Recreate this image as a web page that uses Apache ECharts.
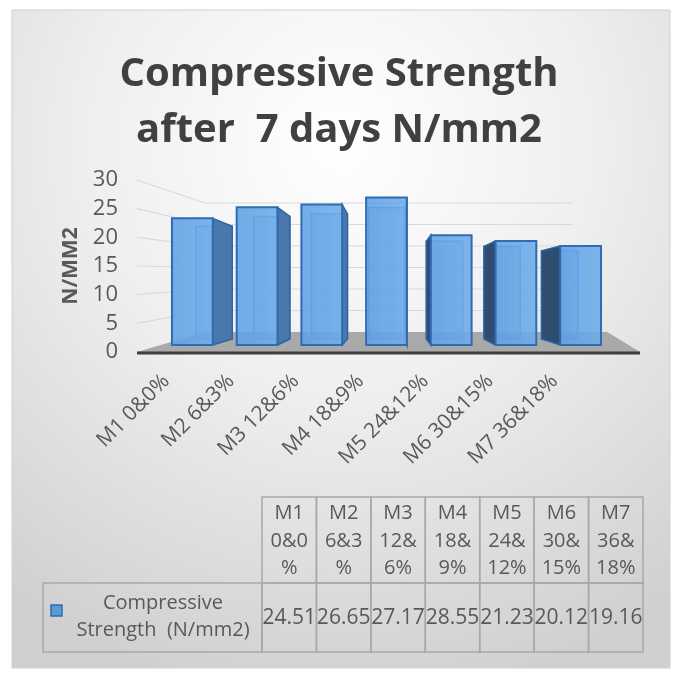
<!DOCTYPE html>
<html>
<head>
<meta charset="utf-8">
<script src="https://cdn.jsdelivr.net/npm/echarts@6/dist/echarts.min.js"></script>
<style>
html, body { margin: 0; padding: 0; background: #fff; }
#main { width: 678px; height: 677px; }
</style>
</head>
<body>
<div id="main"></div>
<script>
// categories, values and table labels
var categories = ['M1 0&0%', 'M2 6&3%', 'M3 12&6%', 'M4 18&9%', 'M5 24&12%', 'M6 30&15%', 'M7 36&18%'];
var tableHeads = ['M1\n0&0\n%', 'M2\n6&3\n%', 'M3\n12&\n6%', 'M4\n18&\n9%', 'M5\n24&\n12%', 'M6\n30&\n15%', 'M7\n36&\n18%'];
var strength = [24.51, 26.65, 27.17, 28.55, 21.23, 20.12, 19.16];
var yTicks = [0, 5, 10, 15, 20, 25, 30];
var seriesName = 'Compressive\nStrength  (N/mm2)';

var TXT = '#595959';
var FONT = 'Open Sans';

/* perspective of the walls / floor */
var WALL_VP = [409, 272], WALL_K = 0.75;
/* perspective of the columns */
var BAR_VP = [390, 290], BAR_K = 0.89;

function toBack(p, vp, k) {
	return [vp[0] + (p[0] - vp[0]) * k, vp[1] + (p[1] - vp[1]) * k];
}

// 背景墙网格线和地板
function renderWalls(params, api) {
	var v = api.value(1);
	var cs = params.coordSys;
	var yF = api.coord([0, v])[1];
	var front = [cs.x + 3, yF];
	var frontR = [cs.x + cs.width + 53, yF];
	var back = toBack(front, WALL_VP, WALL_K);
	var backR = toBack(frontR, WALL_VP, WALL_K);
	if (v === 0) {
		return {
			type: 'group',
			children: [{
				type: 'polygon',
				shape: { points: [front, frontR, [backR[0] + 25, backR[1]], back] },
				style: { fill: '#a9a9a9' }
			}, {
				type: 'line',
				shape: { x1: front[0], y1: yF + 1, x2: frontR[0], y2: yF + 1 },
				style: { stroke: '#3f3f3f', lineWidth: 3 }
			}]
		};
	}
	return {
		type: 'polyline',
		shape: { points: [front, back, [backR[0] - 9, back[1]]] },
		style: { stroke: '#d9d9d9', lineWidth: 1.2, fill: null }
	};
}

// 立体柱子
function renderBar(params, api) {
	var i = api.value(0), v = api.value(1);
	var top = api.coord([i, v]), base = api.coord([i, 0]);
	var w = api.size([1, 0])[0] * 0.63;
	var x0 = top[0] - w / 2, x1 = top[0] + w / 2, yT = top[1], yB = base[1];
	var b00 = toBack([x0, yT], BAR_VP, BAR_K), b10 = toBack([x1, yT], BAR_VP, BAR_K);
	var b01 = toBack([x0, yB], BAR_VP, BAR_K), b11 = toBack([x1, yB], BAR_VP, BAR_K);
	var children = [];
	// back face seen through the glass
	children.push({
		type: 'polygon',
		shape: { points: [b00, b10, b11, b01] },
		style: { fill: 'rgba(90,150,215,0.35)', stroke: '#4a86c8', lineWidth: 1.5 }
	});
	if (top[0] < BAR_VP[0]) {
		children.push({
			type: 'polygon',
			shape: { points: [[x1, yT], b10, b11, [x1, yB]] },
			style: { fill: '#4a78ad', stroke: '#2e64a3', lineWidth: 1.5 }
		});
	} else {
		children.push({
			type: 'polygon',
			shape: { points: [[x0, yT], b00, b01, [x0, yB]] },
			style: { fill: '#2f4d70', stroke: '#2e64a3', lineWidth: 1.5 }
		});
	}
	children.push({
		type: 'rect',
		shape: { x: x0, y: yT, width: w, height: yB - yT },
		style: {
			fill: new echarts.graphic.LinearGradient(0, 0, 1, 0, [
				{ offset: 0, color: 'rgba(95,160,228,0.88)' },
				{ offset: 1, color: 'rgba(110,172,235,0.88)' }
			]),
			stroke: '#2e6cb3',
			lineWidth: 2
		}
	});
	return { type: 'group', children: children };
}

// 数据表
function buildTable() {
	var left = 43, x0 = 262, x1 = 643;
	var yH = 497, yD = 583, yE = 652;
	var colW = (x1 - x0) / categories.length;
	var els = [];
	var lineStyle = { fill: null, stroke: '#a8a8a8', lineWidth: 1.5 };
	els.push({ type: 'rect', shape: { x: left, y: yD, width: x0 - left, height: yE - yD }, style: lineStyle });
	els.push({
		type: 'rect', shape: { x: 51, y: 605, width: 11, height: 11 },
		style: { fill: '#5b9bd5', stroke: '#2e6cb3', lineWidth: 1.5 }
	});
	els.push({
		type: 'text', x: 163, y: 617,
		style: { text: seriesName, font: '20px "' + FONT + '"', fill: TXT, align: 'center', verticalAlign: 'middle', lineHeight: 27 }
	});
	for (var i = 0; i < categories.length; i++) {
		var cx = x0 + colW * i;
		els.push({ type: 'rect', shape: { x: cx, y: yH, width: colW, height: yD - yH }, style: lineStyle });
		els.push({ type: 'rect', shape: { x: cx, y: yD, width: colW, height: yE - yD }, style: lineStyle });
		els.push({
			type: 'text', x: cx + colW / 2, y: (yH + yD) / 2 + 1,
			style: { text: tableHeads[i], font: '20px "' + FONT + '"', fill: TXT, align: 'center', verticalAlign: 'middle', lineHeight: 27.5 }
		});
		els.push({
			type: 'text', x: cx + colW / 2, y: 618,
			style: { text: strength[i].toFixed(2), font: '21px "' + FONT + '"', fill: TXT, align: 'center', verticalAlign: 'middle' }
		});
	}
	return els;
}

var myChart = echarts.init(document.getElementById('main'));

var background = {
	type: 'rect', z: -10, silent: true,
	shape: { x: 12, y: 10, width: 658, height: 658 },
	style: {
		fill: new echarts.graphic.RadialGradient(0.5, 0.2, 0.85, [
			{ offset: 0, color: '#ffffff' },
			{ offset: 0.45, color: '#efefef' },
			{ offset: 1, color: '#d0d0d0' }
		]),
		stroke: '#d0d0d0',
		lineWidth: 1
	}
};

var option = {
	backgroundColor: '#ffffff',
	title: {
		text: 'Compressive Strength\nafter  7 days N/mm2',
		left: 'center',
		top: 42,
		textStyle: { fontFamily: FONT, fontWeight: 'bold', fontSize: 40, color: '#404040', lineHeight: 56 }
	},
	graphic: [background].concat(buildTable()),
	grid: [
		{ left: 134, width: 453, top: 180, bottom: 677 - 352 },
		{ left: 160, width: 453, top: 190, bottom: 677 - 345 }
	],
	xAxis: [{
		type: 'category',
		gridIndex: 0,
		data: categories,
		axisLine: { show: false },
		axisTick: { show: false },
		axisLabel: { rotate: 45, margin: 26, interval: 0, fontFamily: FONT, fontSize: 21, color: TXT }
	}, {
		type: 'category',
		gridIndex: 1,
		data: categories,
		show: false
	}],
	yAxis: [{
		type: 'value',
		gridIndex: 0,
		min: 0,
		max: 30,
		interval: 5,
		name: 'N/MM2',
		nameLocation: 'middle',
		nameGap: 52,
		nameTextStyle: { fontFamily: FONT, fontWeight: 'bold', fontSize: 21, color: TXT },
		axisLine: { show: false },
		axisTick: { show: false },
		splitLine: { show: false },
		axisLabel: { margin: 16, fontFamily: FONT, fontSize: 22, color: TXT }
	}, {
		type: 'value',
		gridIndex: 1,
		min: 0,
		max: 30,
		show: false,
		splitLine: { show: false }
	}],
	series: [{
		type: 'custom',
		name: 'walls',
		xAxisIndex: 0,
		yAxisIndex: 0,
		silent: true,
		renderItem: renderWalls,
		data: yTicks.map(function(v) { return [0, v]; }),
		z: 1
	}, {
		type: 'custom',
		name: 'Compressive Strength (N/mm2)',
		xAxisIndex: 1,
		yAxisIndex: 1,
		renderItem: renderBar,
		data: strength.map(function(v, i) { return [i, v]; }),
		z: 2
	}]
};
myChart.setOption(option);
</script>
</body>
</html>
